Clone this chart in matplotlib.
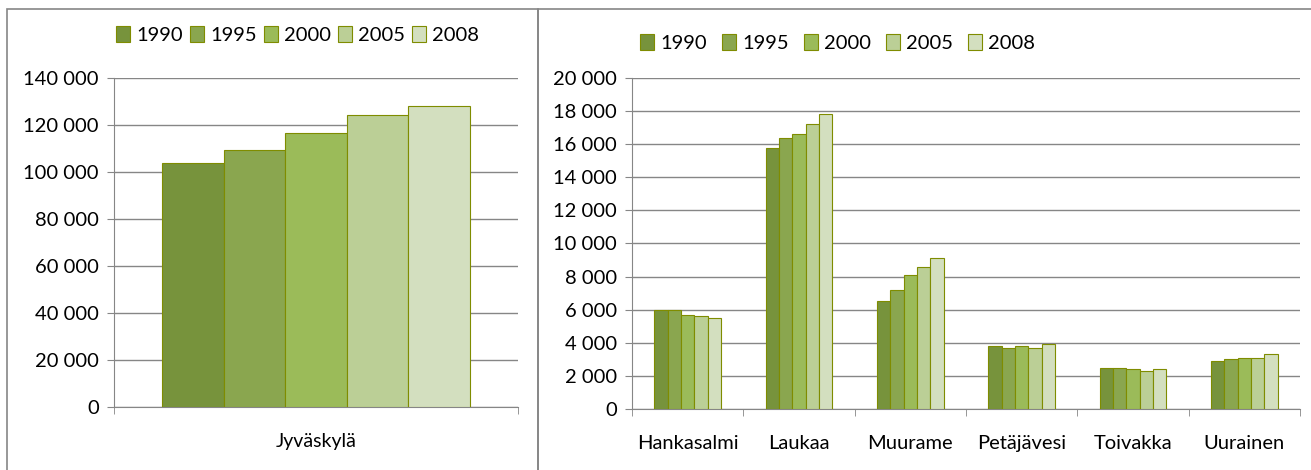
import matplotlib.pyplot as plt
import numpy as np
from matplotlib.patches import Rectangle
from matplotlib.ticker import FuncFormatter

plt.rcParams["font.family"] = ["Lato", "DejaVu Sans"]

YEARS = ["1990", "1995", "2000", "2005", "2008"]
COLORS = ["#77933C", "#8AA64F", "#9BBB59", "#BBCF96", "#D3DFBF"]
EDGE = "#7F8C00"

big_city = ["Jyväskylä"]
big_values = [[104000], [109500], [116500], [124300], [128000]]

towns = ["Hankasalmi", "Laukaa", "Muurame", "Petäjävesi", "Toivakka", "Uurainen"]
town_values = [
    [6000, 15800, 6500, 3800, 2500, 2900],  # 1990
    [6000, 16400, 7200, 3700, 2500, 3000],  # 1995
    [5700, 16600, 8100, 3800, 2400, 3100],  # 2000
    [5600, 17200, 8600, 3700, 2300, 3100],  # 2005
    [5500, 17800, 9100, 3900, 2400, 3300],  # 2008
]

W, H = 1311, 470
fig = plt.figure(figsize=(W / 100, H / 100), dpi=100)


def px_axes(x0, y0, x1, y1):
    return fig.add_axes([x0 / W, 1 - y1 / H, (x1 - x0) / W, (y1 - y0) / H])


def thousands(v, _):
    return f"{int(v):,}".replace(",", " ")


def draw(ax, cats, values, ymax, step, group_width, xfont):
    n = len(values)
    x = np.arange(len(cats))
    bw = group_width / n
    for i, vals in enumerate(values):
        ax.bar(x - group_width / 2 + bw * (i + 0.5), vals, width=bw,
               color=COLORS[i], edgecolor=EDGE, linewidth=0.8,
               label=YEARS[i], zorder=3)
    ax.set_xlim(-0.5, len(cats) - 0.5)
    ax.set_ylim(0, ymax)
    ax.set_yticks(np.arange(0, ymax + 1, step))
    ax.yaxis.set_major_formatter(FuncFormatter(thousands))
    ax.grid(axis="y", color="#868686", linewidth=1, zorder=0)
    ax.set_xticks(x)
    ax.set_xticklabels(cats, fontsize=xfont)
    ax.set_xticks(np.arange(-0.5, len(cats)), minor=True)
    ax.tick_params(axis="x", which="major", length=0, pad=19)
    ax.tick_params(axis="x", which="minor", length=5, color="#868686")
    ax.tick_params(axis="y", length=5, color="#868686", labelsize=14.5, pad=6)
    for s in ["top", "right"]:
        ax.spines[s].set_visible(False)
    for s in ["left", "bottom"]:
        ax.spines[s].set_color("#868686")
    ax.set_facecolor("none")


legend_kw = dict(ncol=5, frameon=False, fontsize=14.5, handlelength=0.7,
                 handleheight=0.8, handletextpad=0.3, borderaxespad=0)

ax1 = px_axes(114, 78, 518, 407)
draw(ax1, big_city, big_values, 140000, 20000, 0.76, 14)
ax1.legend(loc="center", bbox_to_anchor=(0.455, 1 + 43 / 329), columnspacing=0.35,
           **legend_kw)

ax2 = px_axes(632, 78, 1300, 409)
draw(ax2, towns, town_values, 20000, 2000, 0.6, 14.5)
ax2.legend(loc="center left", bbox_to_anchor=(0.0, 1 + 35 / 331), columnspacing=0.75,
           **legend_kw)

# chart frames
fig.patches.append(Rectangle((7 / W, -0.05), (531 / W), 1.05 - 9 / H, transform=fig.transFigure,
                             fill=False, edgecolor="#868686", linewidth=1.2))
fig.patches.append(Rectangle((538 / W, -0.05), (800 / W), 1.05 - 9 / H,
                             transform=fig.transFigure, fill=False,
                             edgecolor="#868686", linewidth=1.2))

fig.savefig("out.png", dpi=100)
